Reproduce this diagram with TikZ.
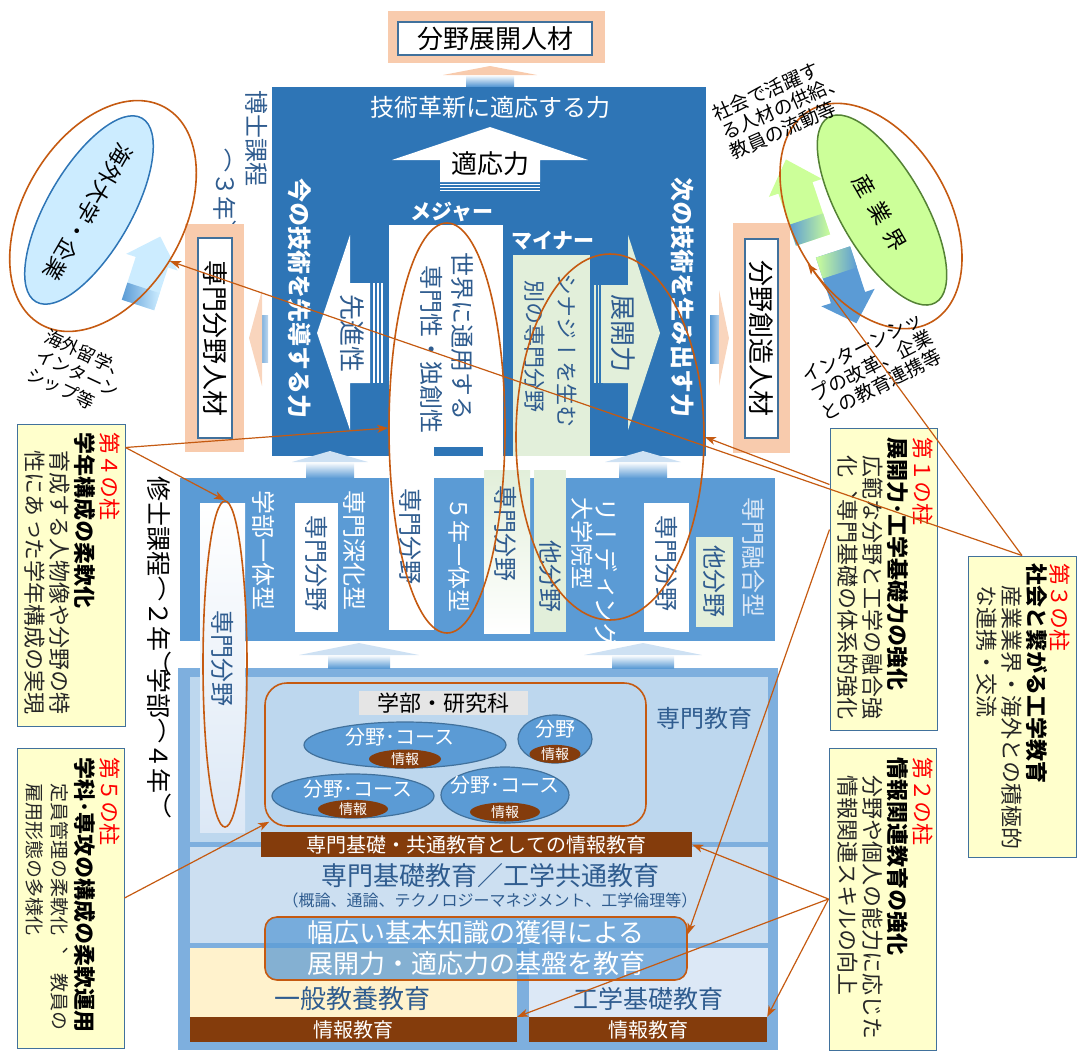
\documentclass[tikz,border=0pt]{standalone}
\usepackage{fontspec}
\setmainfont{Noto Sans CJK JP}
\newfontfamily\jpv{Noto Sans CJK JP}[Vertical=RotatedGlyphs,RawFeature=+vert]
\newfontfamily\jpvp{Noto Sans CJK JP}[Vertical=RotatedGlyphs,RawFeature={+vert;+vpal}]
\usetikzlibrary{shapes.geometric,arrows.meta}

\definecolor{docblue}{HTML}{2E75B6}
\definecolor{msblue}{HTML}{5B9BD5}
\definecolor{ugblue}{HTML}{7EAFDE}
\definecolor{spblue}{HTML}{BDD7EE}
\definecolor{kbblue}{HTML}{CCDFF1}
\definecolor{kkblue}{HTML}{DCE8F6}
\definecolor{cream}{HTML}{FFF2CC}
\definecolor{brownc}{HTML}{843C0C}
\definecolor{salmon}{HTML}{F8CBAD}
\definecolor{paleg}{HTML}{E2EFDA}
\definecolor{lineor}{HTML}{C55A11}
\definecolor{pillarY}{HTML}{FFFFCC}
\definecolor{frameb}{HTML}{41719C}
\definecolor{txtb}{HTML}{2F5C8F}
\definecolor{skyb}{HTML}{CCECFF}
\definecolor{leaf}{HTML}{CCFF99}
\definecolor{leafd}{HTML}{548235}
\definecolor{bodytxt}{HTML}{262626}

\begin{document}
\begin{tikzpicture}[x=1pt,y=-1pt,
  vfont/.style={inner sep=0pt,font=\jpv\fontsize{#1}{#1}\selectfont},
  vt/.style={vfont=#1,rotate=-90,anchor=west},
  vtp/.style={rotate=-90,anchor=west,inner sep=0pt,font=\jpvp\fontsize{#1}{#1}\selectfont},
  vtb/.style={rotate=-90,anchor=west,inner sep=0pt,font=\jpv\bfseries\fontsize{#1}{#1}\selectfont},
  ht/.style={inner sep=0pt,font=\fontsize{#1}{#1}\selectfont},
  htb/.style={inner sep=0pt,font=\bfseries\fontsize{#1}{#1}\selectfont},
  namebox/.style={draw=frameb,line width=1.5pt,fill=white,inner sep=0pt},
  pillar/.style={draw=frameb,line width=1pt,fill=pillarY,inner sep=0pt},
  ring/.style={ellipse,draw=lineor,line width=1.6pt,inner sep=0pt},
  course/.style={ellipse,fill=msblue,draw=frameb,line width=1.2pt,inner sep=0pt},
  info/.style={ellipse,fill=brownc,inner sep=0pt,text=white,font=\fontsize{14}{14}\selectfont},
  bar/.style={fill=brownc,inner sep=0pt,text=white,font=\fontsize{20}{20}\selectfont},
  link/.style={draw=lineor,line width=1.2pt,-{Stealth[length=11pt,width=8pt,inset=3pt]}}]
\useasboundingbox (0,0) rectangle (1078,1052);

% 分野展開人材
\fill[salmon] (388,11) rectangle (605,63);
\node[namebox,minimum width=194pt,minimum height=33pt,font=\fontsize{26}{26}\selectfont] (tenkai) at (495,38.5) {分野展開人材};

% 博士課程
\fill[docblue] (272,87) rectangle (706,456);
\node[ht=24,text=white] (kakushin) at (490,107) {技術革新に適応する力};
\fill[white] (392,160) -- (490,127) -- (588,160) -- (540,160) -- (540,182) -- (440,182) -- (440,160) -- cycle;
\foreach \y in {184.5,187.5,190.5}
  \draw[white,line width=1pt] (440,\y) -- (540,\y);
\node[ht=26] (tekiou) at (490,164) {適応力};
\node[vtb=24,text=white] (imano) at (300,178) {今の技術を先導する力};
\node[vtb=24,text=white] (tsugino) at (683,177) {次の技術を生み出す力};

\fill[white] (317,333) -- (350,235) -- (350,283) -- (370,283) -- (370,383) -- (350,383) -- (350,430) -- cycle;
\foreach \x in {374,378,382}
  \draw[white,line width=1.2pt] (\x,283) -- (\x,383);
\node[vt=26,text=txtb] (senshin) at (352,294) {先進性};
\fill[paleg] (660,333) -- (628,235) -- (628,285) -- (603,285) -- (603,383) -- (628,383) -- (628,430) -- cycle;
\foreach \x in {595,598.5,602}
  \draw[paleg,line width=1.2pt] (\x,285) -- (\x,383);
\node[vt=26,text=txtb] (tenkairyoku) at (623,294) {展開力};

\node[htb=21,text=white] (majorlbl) at (452,212) {メジャー};
\node[htb=21,text=white] (minorlbl) at (553,241) {マイナー};
\fill[white] (389,225) rectangle (503,456);
\node[vt=24,text=txtb] (sekai) at (462,252) {世界に通用する};
\node[vt=24,text=txtb] (dokusou) at (432,265) {専門性・独創性};
\fill[paleg] (513,255) rectangle (590,456);
\fill[docblue] (434,447) rectangle (483,456);
\node[vt=22,text=txtb] (synergy) at (567,273) {シナジーを生む};
\node[vt=22,text=txtb] (betsu) at (535,280) {別の専門分野};

\node[vtp=24,text=txtb] (hakase) at (257,90) {博士課程};
\node[vtp=24,text=txtb] (hakase3) at (225,148) {（３年）};

% 専門分野人材 / 分野創造人材
\fill[salmon] (185,224) rectangle (244,452);
\node[namebox,rotate=-90,minimum width=200pt,minimum height=34pt,font=\jpv\fontsize{26}{26}\selectfont] (senmonjinzai) at (215,338) {専門分野人材};
\shade[left color=msblue,right color=msblue!40] (258,315) rectangle (268,362);
\fill[salmon!80] (262,290) -- (249,338) -- (262,386) -- cycle;
\fill[salmon] (733,223) rectangle (790,453);
\node[namebox,rotate=-90,minimum width=199pt,minimum height=33pt,font=\jpv\fontsize{26}{26}\selectfont] (souzou) at (761.5,338.5) {分野創造人材};
\shade[left color=msblue,right color=msblue!40] (710,315) rectangle (720,363);
\fill[salmon!80] (719,290) -- (729,338) -- (719,386) -- cycle;

% 修士課程
\fill[msblue] (180,478) rectangle (775,641);
\node[vt=24,text=white] (gakubu1) at (264,490) {学部一体型};
\fill[white] (295,503) rectangle (338,632);
\node[vt=24,text=txtb] (ms1) at (317,515) {専門分野};
\node[vt=24,text=white] (shinka) at (355,490) {専門深化型};
\fill[white] (389,456) rectangle (434,630);
\node[vt=24,text=txtb] (ms2) at (411,488) {専門分野};
\node[vt=23,text=white] (gonen) at (459,497) {５年一体型};
\shade[top color=paleg,bottom color=white] (484,470) rectangle (530,633);
\node[vt=24,text=txtb] (ms3) at (506,485) {専門分野};
\fill[paleg] (534,470) rectangle (566,632);
\node[vt=24,text=txtb] (ta1) at (551,540) {他分野};
\node[vt=25,text=white] (leading) at (606,497) {リーディング};
\node[vt=23,text=white] (daigakuin) at (582,497) {大学院型};
\fill[white] (644,503) rectangle (689,632);
\node[vt=24,text=txtb] (ms4) at (667,515) {専門分野};
\fill[paleg] (696,537) rectangle (733,627);
\node[vt=24,text=txtb] (ta2) at (715,545) {他分野};
\node[vt=24,text=kkblue] (yuugou) at (754,497) {専門融合型};

\node[vtp=25] (shushi) at (159,476) {修士課程（２年）};
\node[vtp=25] (gakubu) at (159,668) {学部（４年）};

% 学部
\fill[ugblue] (178,668) rectangle (778,1050);
\fill[spblue] (190,677) rectangle (768,842);
\fill[kbblue] (190,847) rectangle (768,943);
\fill[cream] (190,948) rectangle (517,1017);
\fill[kkblue] (529,948) rectangle (768,1017);
\shade[top color=white,bottom color=kkblue] (200,503) rectangle (245,832);
\node[vt=24,text=txtb] (ug1) at (223,610) {専門分野};

\foreach \cx/\ya/\yh/\yb/\hw/\sw/\hc in {490/66/75/86/47/24/salmon, 330/451/462/478/38/24/msblue!30, 643/451/462/478/38/24/msblue!30, 359/643/655/668/60/31/msblue!30, 643/643/655/668/59/31/msblue!30}{
  \shade[top color=white,bottom color=msblue] (\cx-\sw,\yh) rectangle (\cx+\sw,\yb);
  \fill[\hc] (\cx-\hw,\yh) -- (\cx,\ya) -- (\cx+\hw,\yh) -- cycle;
}

\node[ht=24,text=txtb] (senmonkyoiku) at (704,718) {専門教育};
\node[draw=lineor,line width=1.6pt,rounded corners=22pt,minimum width=381pt,minimum height=143pt,inner sep=0pt] (senmon) at (455.5,754.5) {};
\node[fill=black!10,minimum width=169pt,minimum height=24pt,inner sep=0pt,font=\fontsize{22}{22}\selectfont] (kenkyuka) at (443.5,703) {学部・研究科};
\node[course,minimum width=202pt,minimum height=46pt] (c1) at (405,745) {};
\node[ht=20,text=white] (c1t) at (400,737) {分野･コース};
\node[info,minimum width=72pt,minimum height=19pt] (c1i) at (405,759) {情報};
\node[course,minimum width=74pt,minimum height=48pt] (c2) at (555,739) {};
\node[ht=20,text=white] (c2t) at (555,729) {分野};
\node[info,minimum width=51pt,minimum height=18pt] (c2i) at (555,754) {情報};
\node[course,minimum width=162pt,minimum height=44pt] (c3) at (353,796) {};
\node[ht=20,text=white] (c3t) at (358,789) {分野･コース};
\node[info,minimum width=70pt,minimum height=18pt] (c3i) at (353,809) {情報};
\node[course,minimum width=128pt,minimum height=56pt] (c4) at (505,795) {};
\node[ht=20,text=white] (c4t) at (505,785) {分野･コース};
\node[info,minimum width=70pt,minimum height=19pt] (c4i) at (505,812) {情報};

\node[bar,minimum width=431pt,minimum height=25pt] (kisobar) at (476.5,844.5) {専門基礎・共通教育としての情報教育};
\node[ht=26,text=txtb] (kiso) at (490,876) {専門基礎教育／工学共通教育};
\node[ht=16,text=txtb] (kisosub) at (490,900) {（概論、通論、テクノロジーマネジメント、工学倫理等）};
\node[ht=26,text=txtb] (ippan) at (352,999) {一般教養教育};
\node[ht=25,text=txtb] (kougaku) at (648,999) {工学基礎教育};
\node[bar,minimum width=327pt,minimum height=25pt] (joho1) at (353.5,1029.5) {情報教育};
\node[bar,minimum width=238pt,minimum height=25pt] (joho2) at (648,1029.5) {情報教育};
\node[draw=lineor,line width=1.6pt,rounded corners=12pt,fill=msblue,fill opacity=0.75,text opacity=1,text=white,minimum width=422pt,minimum height=63pt,align=center,inner sep=0pt,font=\fontsize{26}{31}\selectfont] (hiroi) at (476,948.5) {幅広い基本知識の獲得による\\展開力・適応力の基盤を教育};

% 海外大学・企業
\begin{scope}[shift={(138,305)},rotate=72]
  \fill[skyb] (0,-17) -- (45,-17) -- (45,-27) -- (72,0) -- (45,27) -- (45,17) -- (0,17) -- cycle;
  \shade[left color=msblue,right color=skyb] (0,-17) rectangle (18,17);
\end{scope}
\node[ellipse,draw=docblue,fill=skyb,line width=1.5pt,rotate=60,minimum width=212pt,minimum height=84pt,inner sep=0pt] (abroad) at (89,210) {};
\node[vfont=22,rotate=-120] (abroadtxt) at (88,212) {海外大学・企業};
\node[ring,rotate=60,minimum width=250pt,minimum height=160pt] (abroadring) at (103,216) {};
\node[ht=18,rotate=-25,align=left,font=\fontsize{18}{21}\selectfont] (ryugaku) at (78,373) {海外留学、\\インターン\\シップ等};

% 産業界
\begin{scope}[shift={(813,240)},rotate=108.6]
  \fill[leaf] (0,-18) -- (55,-18) -- (55,-28) -- (85,0) -- (55,28) -- (55,18) -- (0,18) -- cycle;
  \shade[left color=msblue,right color=leaf] (0,-18) rectangle (22,18);
\end{scope}
\begin{scope}[shift={(833,252)},rotate=-71.8]
  \fill[msblue] (0,-18) -- (48,-18) -- (48,-28) -- (75,0) -- (48,28) -- (48,18) -- (0,18) -- cycle;
  \shade[left color=leaf,right color=msblue] (0,-18) rectangle (22,18);
\end{scope}
\node[ellipse,draw=leafd,fill=leaf,line width=1.5pt,rotate=-60,minimum width=214pt,minimum height=84pt,inner sep=0pt] (industry) at (882,210) {};
\node[vfont=22,rotate=-60] (industrytxt) at (880,213) {産\hspace{9pt}業\hspace{9pt}界};
\node[ring,rotate=-60,minimum width=244pt,minimum height=156pt] (industryring) at (871,216) {};
\node[ht=19,rotate=24,align=left,font=\fontsize{19}{21}\selectfont] (kyoukyu) at (783,107) {社会で活躍す\\る人材の供給、\\教員の流動等};
\node[ht=19,rotate=27,align=left,font=\fontsize{19}{21}\selectfont] (renkei) at (872,366) {インターンシッ\\プの改革、企業\\との教育連携等};

% 柱
\node[pillar,minimum width=108pt,minimum height=302pt] (p4) at (71,575) {};
\node[vt=22,text=red] (p4t) at (110,432) {第４の柱};
\node[vtb=22] (p4h) at (85,432) {学年構成の柔軟化};
\node[vt=22,text=bodytxt] (p4a) at (60,450) {育成する人物像や分野の特};
\node[vt=22,text=bodytxt] (p4b) at (35,450) {性にあった学年構成の実現};

\node[pillar,minimum width=107pt,minimum height=300pt] (p5) at (70.5,898) {};
\node[vt=22,text=red] (p5t) at (110,757) {第５の柱};
\node[vtb=22] (p5h) at (85,757) {学科･専攻の構成の柔軟運用};
\node[vt=19,text=bodytxt] (p5a) at (60,783) {定員管理の柔軟化、　教員の};
\node[vt=19,text=bodytxt] (p5b) at (35,783) {雇用形態の多様化};

\node[pillar,minimum width=107pt,minimum height=302pt] (p1) at (883.5,579) {};
\node[vt=22,text=red] (p1t) at (923,437) {第１の柱};
\node[vtb=22] (p1h) at (898,437) {展開力･工学基礎力の強化};
\node[vt=22,text=bodytxt] (p1a) at (873,455) {広範な分野と工学の融合強};
\node[vt=22,text=bodytxt] (p1b) at (848,455) {化、専門基礎の体系的強化};

\node[pillar,minimum width=107pt,minimum height=302pt] (p2) at (882.5,899) {};
\node[vt=22,text=red] (p2t) at (923,757) {第２の柱};
\node[vtb=22] (p2h) at (898,757) {情報関連教育の強化};
\node[vt=22,text=bodytxt] (p2a) at (873,775) {分野や個人の能力に応じた};
\node[vt=22,text=bodytxt] (p2b) at (848,775) {情報関連スキルの向上};

\node[pillar,minimum width=108pt,minimum height=301pt] (p3) at (1022,706.5) {};
\node[vt=22,text=red] (p3t) at (1060,563) {第３の柱};
\node[vtb=22] (p3h) at (1037,563) {社会と繋がる工学教育};
\node[vt=22,text=bodytxt] (p3a) at (1012,585) {産業業界・海外との積極的};
\node[vt=22,text=bodytxt] (p3b) at (987,585) {な連携・交流};

% 囲み
\node[ring,minimum width=116pt,minimum height=410pt] (major) at (447,428) {};
\node[ring,minimum width=188pt,minimum height=366pt] (minor) at (610,437) {};
\node[ring,minimum width=44pt,minimum height=326pt] (leftcol) at (225,664) {};

% 矢印
\draw[link] ([yshift=-24pt]p4.north east) -- (major.west);
\draw[link] ([yshift=-24pt]p4.north east) -- (leftcol.north);
\draw[link] (p3.north) -- (industryring.277.6);
\draw[link] (p3.north) -- (abroadring.266.3);
\draw[link] ([yshift=-57pt]p1.north west) -- (minor.east);
\draw[link] ([yshift=-102pt]p1.north west) -- ([yshift=-18pt]hiroi.north east);
\draw[link] (p2.west) -- (kisobar.east);
\draw[link] (p2.west) -- (joho1.north east);
\draw[link] (p2.west) -- (joho2.north east);
\draw[link] (p5.east) -- ([xshift=5pt,yshift=5pt]senmon.south west);
\end{tikzpicture}
\end{document}
